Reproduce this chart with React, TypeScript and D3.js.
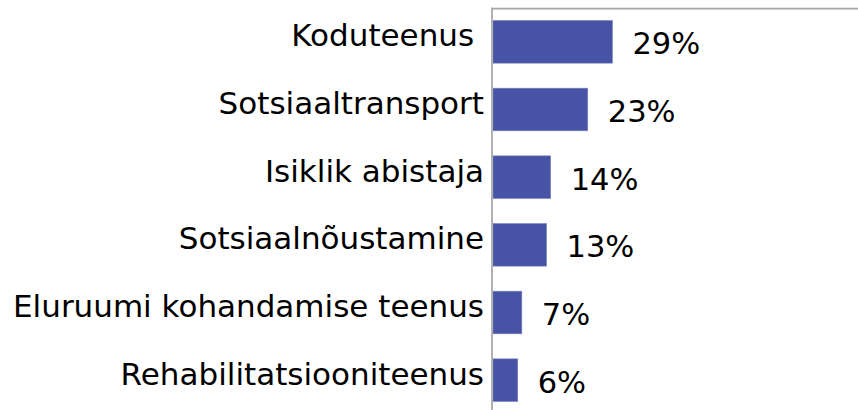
import React from "react";
import * as d3 from "d3";

const categories = [
  "Koduteenus ",
  "Sotsiaaltransport",
  "Isiklik abistaja",
  "Sotsiaalnõustamine",
  "Eluruumi kohandamise teenus",
  "Rehabilitatsiooniteenus",
];
const values = [29, 23, 14, 13, 7, 6];
const valueLabels = ["29%", "23%", "14%", "13%", "7%", "6%"];

const W = 858;
const H = 410;
const FONT = "'DejaVu Sans', Verdana, sans-serif";

export default function App() {
  const x0 = 492;
  const x = d3.scaleLinear().domain([0, 100]).range([x0 + 1, x0 + 1 + 412]);
  const y = d3
    .scaleBand<string>()
    .domain(categories)
    .range([8, 414])
    .paddingInner(0.37)
    .paddingOuter(0.185);

  return (
    <svg
      width={W}
      height={H}
      style={{ position: "absolute", left: 0, top: 0, background: "#fff" }}
    >
      <line x1={x0} x2={W} y1={8.5} y2={8.5} stroke="#A6A6A6" strokeWidth={1.75} />
      {categories.map((c, i) => {
        const yc = (y(c) as number) + y.bandwidth() / 2;
        return (
          <g key={c}>
            <rect
              x={x(0)}
              y={y(c) as number}
              width={x(values[i]) - x(0)}
              height={y.bandwidth()}
              fill="#4753A4"
              stroke="#7A84C4"
              strokeWidth={0.6}
            />
            <text
              x={x0 - 8}
              y={yc + 4.5}
              textAnchor="end"
              fontFamily={FONT}
              fontSize={31}
              fill="#000"
              style={{ whiteSpace: "pre" }}
              xmlSpace="preserve"
            >
              {c}
            </text>
            <text
              x={x(values[i]) + 20}
              y={yc + 12.5}
              textAnchor="start"
              fontFamily={FONT}
              fontSize={30.5}
              fill="#000"
            >
              {valueLabels[i]}
            </text>
          </g>
        );
      })}
      <line x1={x0} x2={x0} y1={7.6} y2={H} stroke="#A6A6A6" strokeWidth={1.75} />
    </svg>
  );
}
